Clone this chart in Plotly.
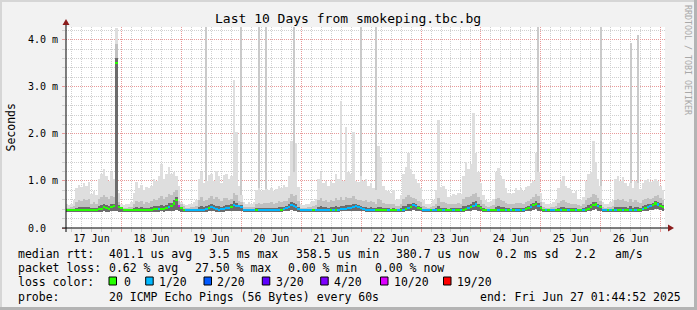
import pandas as pd
import plotly.graph_objects as go

# ---------------- data (ms), hourly, starting 2025-06-17 02:00 ----------------
start = "2025-06-17 01:44:52"
end = "2025-06-27 01:44:52"

rtt_min = (
    [.345,.345,.345,.345,.35,.35,.35,.35,.35,.35,.345,.35,.345,.35,.35,.355,.35,.35,.355,.355,.36,.35]
    + [.345,.345,.345,.345,.345,.345,.35,.35,.35,.345,.35,.345,.35,.35,.35,.35,.355,.35,.355,.36,.36,.37,.38,.355]
    + [.35,.345,.34,.34,.34,.34,.345,.35,.35,.35,.35,.355,.36,.355,.35,.35,.35,.35,.355,.355,.36,.37,.365,.36]
    + [.36,.35,.345,.345,.345,.34,.345,.345,.345,.345,.345,.345,.35,.345,.35,.35,.35,.355,.36,.365,.38,.37,.36,.35]
    + [.345,.34,.34,.34,.34,.345,.345,.35,.35,.345,.35,.345,.35,.345,.35,.35,.355,.355,.36,.36,.365,.37,.37,.36]
    + [.36,.355,.35,.345,.345,.34,.34,.345,.345,.345,.34,.34,.34,.345,.34,.345,.345,.35,.355,.36,.37,.38,.37,.36]
    + [.355,.345,.345,.34,.34,.34,.345,.345,.345,.345,.345,.34,.34,.345,.345,.345,.35,.35,.355,.36,.37,.38,.39,.37]
    + [.36,.35,.345,.345,.34,.34,.345,.345,.345,.345,.345,.34,.34,.345,.345,.345,.35,.35,.355,.36,.37,.39,.40,.37]
    + [.36,.35,.345,.34,.34,.34,.345,.345,.345,.35,.345,.345,.345,.345,.345,.34,.34,.345,.35,.36,.37,.39,.40,.37]
    + [.36,.35,.345,.34,.34,.345,.345,.35,.345,.35,.345,.345,.35,.345,.35,.35,.35,.355,.36,.37,.38,.39,.41,.40,.38,.37]
)

rtt_median = (
    [.385,.38,.38,.385,.38,.385,.38,.385,.38,.38,.38,.385,.38,.40,.41,.44,.43,.41,.44,.46,3.50,.45]
    + [.42,.39,.38,.38,.38,.38,.385,.38,.385,.38,.38,.39,.39,.40,.40,.41,.40,.41,.43,.45,.47,.52,.60,.46]
    + [.42,.39,.38,.375,.375,.375,.38,.39,.39,.39,.40,.42,.44,.42,.40,.39,.40,.41,.42,.43,.45,.49,.47,.46]
    + [.45,.39,.38,.38,.38,.375,.38,.38,.38,.38,.38,.38,.385,.38,.385,.39,.39,.40,.42,.45,.49,.47,.44,.40]
    + [.38,.375,.375,.375,.375,.38,.38,.385,.39,.38,.385,.38,.385,.38,.39,.39,.40,.40,.41,.42,.43,.45,.46,.44]
    + [.42,.40,.39,.38,.38,.375,.375,.38,.38,.38,.375,.375,.375,.38,.375,.38,.38,.39,.40,.42,.45,.48,.46,.43]
    + [.40,.38,.38,.375,.375,.375,.38,.38,.38,.38,.38,.375,.375,.38,.38,.38,.385,.39,.40,.42,.44,.47,.50,.46]
    + [.42,.39,.38,.38,.375,.375,.38,.38,.38,.38,.38,.375,.375,.38,.38,.38,.385,.39,.40,.42,.45,.49,.51,.46]
    + [.43,.39,.38,.375,.375,.375,.38,.38,.38,.385,.38,.38,.38,.38,.38,.375,.375,.38,.39,.41,.44,.48,.50,.46]
    + [.44,.39,.38,.375,.375,.38,.38,.385,.38,.385,.38,.38,.39,.38,.385,.39,.39,.40,.42,.44,.46,.49,.52,.50,.47,.45]
)

rtt_p75 = (
    [.43,.43,.44,.47,.55,.60,.58,.62,.60,.62,.52,.55,.52,.62,.66,.70,.65,.62,.68,.66,3.90,.55]
    + [.43,.43,.43,.44,.45,.50,.58,.55,.57,.52,.55,.54,.57,.62,.60,.63,.68,.62,.66,.72,.70,.76,.80,.58]
    + [.50,.46,.43,.43,.44,.45,.47,.60,.66,.58,.60,.64,.68,.62,.66,.62,.58,.63,.64,.60,.62,.75,.70,.58]
    + [.55,.45,.44,.45,.44,.45,.52,.54,.52,.53,.54,.53,.55,.52,.54,.57,.55,.58,.58,.64,.72,.68,.70,.58]
    + [.43,.43,.43,.44,.45,.46,.48,.60,.64,.58,.60,.56,.60,.58,.63,.60,.66,.60,.66,.64,.64,.68,.62,.60]
    + [.60,.58,.60,.56,.57,.55,.52,.62,.60,.54,.52,.51,.50,.52,.46,.47,.50,.62,.66,.70,.66,.64,.62,.58]
    + [.55,.47,.44,.43,.44,.46,.52,.64,.56,.56,.54,.50,.51,.52,.52,.53,.52,.62,.66,.66,.68,.72,.74,.66]
    + [.60,.50,.47,.45,.46,.48,.62,.64,.60,.58,.53,.51,.50,.51,.54,.53,.54,.52,.56,.58,.62,.66,.72,.68]
    + [.55,.45,.43,.43,.44,.45,.47,.54,.58,.60,.56,.54,.52,.52,.52,.48,.47,.50,.60,.64,.66,.72,.70,.64]
    + [.58,.45,.43,.44,.45,.47,.60,.62,.60,.62,.58,.56,.62,.55,.60,.56,.54,.60,.62,.64,.62,.64,.68,.70,.64,.60]
)

rtt_p95 = (
    [.50,.48,.52,.60,.85,.92,.88,.95,.90,.98,.72,.78,.70,1.05,1.15,1.25,1.10,1.00,1.18,1.05,4.24,.75]
    + [.50,.48,.50,.52,.55,.75,.98,.85,.92,.80,.88,.85,.90,1.05,1.00,1.10,1.35,1.05,1.15,1.30,1.15,1.20,1.10,.90]
    + [.55,.50,.48,.50,.52,.55,.60,1.05,1.20,.95,1.00,1.12,1.15,1.00,1.22,1.10,.95,1.12,1.15,1.05,1.10,3.15,2.05,.90]
    + [.70,.55,.52,.55,.50,.55,.80,.85,.78,.80,.82,.80,.85,.78,.82,.90,.86,.92,.88,1.10,1.85,1.20,1.80,.88]
    + [.50,.48,.50,.52,.55,.58,.62,1.05,1.20,.95,1.00,.90,1.00,.95,1.15,1.05,2.70,1.00,2.15,1.20,1.15,2.05,1.00,.98]
    + [1.10,1.00,1.05,.90,.95,.85,.80,1.75,1.50,.90,.80,.78,.75,.80,.60,.62,.70,1.15,1.30,1.60,1.25,1.15,1.05,.95]
    + [.85,.60,.52,.50,.52,.60,.80,2.30,.88,.90,.82,.65,.68,.72,.70,.75,.72,1.10,1.40,1.25,1.35,2.45,1.60,1.20]
    + [.95,.70,.60,.55,.58,.62,1.20,1.28,1.10,1.05,.85,.75,.72,.75,.85,.80,.85,.78,.88,.90,.95,1.00,1.60,1.20]
    + [.75,.55,.50,.50,.52,.55,.60,.85,1.00,1.10,.90,.85,.80,.75,.78,.62,.60,.65,1.00,1.15,1.20,1.85,1.40,1.05]
    + [.90,.55,.50,.52,.55,.60,1.05,1.10,1.00,1.08,.95,.90,.95,.85,1.00,.95,.82,.95,1.02,1.05,.98,1.00,1.05,1.00,.90,.80]
)

loss = (
    [0,0,0,0,0,0,0,0,0,0,0,0,0,0,0,0,0,0,0,0,0,0]
    + [0,0,0,0,0,0,0,0,0,0,0,0,0,0,0,1,0,0,0,1,0,0,0,10]
    + [0,0,1,1,1,1,1,1,1,1,1,0,1,1,1,1,1,1,1,1,0,1,1,1]
    + [1,1,1,1,1,1,0,1,1,1,1,1,1,1,1,1,0,1,1,1,1,1,1,1]
    + [1,1,1,1,1,0,1,1,1,1,1,1,0,1,0,1,1,1,1,1,1,1,1,1]
    + [1,1,1,1,1,1,0,0,0,0,0,1,0,0,0,1,0,1,0,1,0,1,1,0]
    + [0,1,1,1,0,1,1,0,0,1,0,0,0,1,0,0,1,0,0,1,0,1,1,0]
    + [0,0,0,1,0,0,0,1,0,0,1,0,1,0,1,1,0,1,0,0,1,0,0,1]
    + [0,0,1,0,1,1,0,0,1,0,0,1,0,0,1,0,0,1,0,0,0,0,0,1]
    + [0,1,1,0,1,0,1,0,0,1,0,0,1,0,1,0,0,1,0,1,1,0,0,1,0,0]
)

# isolated single-ping maxima (hour index, ms)
spike_idx = [20, 56, 70, 77, 80, 91, 118, 124, 189, 214, 226, 229]
spike_max = [4.24, 4.26, 4.26, 4.26, 4.26, 4.26, 4.26, 4.26, 4.26, 4.26, 3.92, 4.10]

loss_levels = [0, 1, 2, 3, 4, 10, 19]
loss_labels = ["0", "1/20", "2/20", "3/20", "4/20", "10/20", "19/20"]
loss_colors = ["#26ff00", "#00b8ff", "#0059ff", "#5e00ff", "#7e00ff", "#dd00ff", "#ff0000"]

y_tick_vals = [0, 1, 2, 3, 4]
y_tick_text = ["0.0\u00a0\u00a0", "1.0 m", "2.0 m", "3.0 m", "4.0 m"]

times = pd.date_range("2025-06-17 02:00", periods=len(rtt_median), freq="h")

# ---------------- geometry helpers ----------------
W, H = 697, 310
L, R, T, B = 66, 665, 27, 228
PW, PH = R - L, B - T
FONT = "DejaVu Sans Mono"


def px(x):
    return (x - L) / PW


def py(y):
    return (B - y) / PH


HOUR = 3600000
fig = go.Figure()

# smoke layers
fig.add_trace(go.Bar(x=times, base=rtt_min, y=[b - a for a, b in zip(rtt_min, rtt_p95)],
                     width=HOUR, marker=dict(color="#dedede", line=dict(width=0)), hoverinfo="skip"))
fig.add_trace(go.Bar(x=times, base=rtt_min, y=[b - a for a, b in zip(rtt_min, rtt_p75)],
                     width=HOUR, marker=dict(color="#c0c0c0", line=dict(width=0)), hoverinfo="skip"))
dark_top = [m + 0.3 * (p - m) for m, p in zip(rtt_median, rtt_p75)]
fig.add_trace(go.Bar(x=times, base=rtt_min, y=[d - a for a, d in zip(rtt_min, dark_top)],
                     width=HOUR, marker=dict(color="#6c6c6c", line=dict(width=0)), hoverinfo="skip"))
# thin spikes
sp_x = [times[i] for i in spike_idx]
sp_base = [rtt_p95[i] for i in spike_idx]
fig.add_trace(go.Bar(x=sp_x, base=sp_base, y=[m - b for m, b in zip(spike_max, sp_base)],
                     width=HOUR * 0.45, marker=dict(color="#cacaca", line=dict(width=0)), hoverinfo="skip"))
# median coloured by loss
cmap = dict(zip(loss_levels, loss_colors))
fig.add_trace(go.Bar(x=times, base=[m - 0.022 for m in rtt_median], y=[0.044] * len(rtt_median),
                     width=HOUR, marker=dict(color=[cmap[v] for v in loss], line=dict(width=0)),
                     hoverinfo="skip"))

grid_minor = "#cfcfcf"
grid_major = "#e89a9a"

fig.update_layout(
    width=W, height=H, autosize=False,
    margin=dict(l=L, r=W - R, t=T, b=H - B, pad=0),
    paper_bgcolor="#f2f2f2", plot_bgcolor="#ffffff",
    barmode="overlay", bargap=0, showlegend=False,
    font=dict(family=FONT, size=10, color="#000000"),
    xaxis=dict(
        type="date", range=[start, end], showline=False, zeroline=False,
        tick0="2025-06-17 00:00", dtick=86400000, tickformat="%d %b", ticklabelmode="period",
        ticks="outside", ticklen=3, tickcolor=grid_major, ticklabelstandoff=-2,
        showgrid=True, gridcolor=grid_major, griddash="1px,1px", gridwidth=1,
        minor=dict(dtick=4 * HOUR, tick0="2025-06-17 00:00", showgrid=True,
                   gridcolor=grid_minor, griddash="1px,1px", gridwidth=1,
                   ticks="outside", ticklen=3, tickcolor=grid_minor),
        tickfont=dict(family=FONT, size=10, color="#000000"),
        layer="above traces", fixedrange=True,
    ),
    yaxis=dict(
        range=[0, 4.27], showline=False, zeroline=False,
        tickmode="array", tickvals=y_tick_vals, ticktext=y_tick_text,
        ticks="outside", ticklen=3, tickcolor=grid_major, ticklabelstandoff=2,
        showgrid=True, gridcolor=grid_major, griddash="1px,1px", gridwidth=1,
        minor=dict(tickmode="linear", tick0=0, dtick=0.2, showgrid=True,
                   gridcolor=grid_minor, griddash="1px,1px", gridwidth=1,
                   ticks="outside", ticklen=3, tickcolor=grid_minor),
        tickfont=dict(family=FONT, size=10, color="#000000"),
        layer="above traces", fixedrange=True,
    ),
)

shapes = []


def rect(x0, y0, x1, y1, color, line=None):
    d = dict(type="rect", xref="paper", yref="paper", x0=px(x0), x1=px(x1), y0=py(y0), y1=py(y1),
             fillcolor=color, layer="above")
    d["line"] = line if line else dict(width=0)
    shapes.append(d)


# image frame
rect(0, 0, W, 2, "#d6d6d6")
rect(0, 0, 2, H, "#d6d6d6")
rect(0, H - 3, W, H, "#b4b4b4")
rect(W - 3, 0, W, H, "#b4b4b4")

# axes lines
shapes.append(dict(type="line", xref="paper", yref="paper", x0=px(66), x1=px(66), y0=py(232), y1=py(24),
                   line=dict(color="#000000", width=1), layer="above"))
shapes.append(dict(type="line", xref="paper", yref="paper", x0=px(62), x1=px(669), y0=0, y1=0,
                   line=dict(color="#000000", width=1), layer="above"))
# arrows
shapes.append(dict(type="path", xref="paper", yref="paper",
                   path=f"M {px(62.5)} {py(25)} L {px(69.5)} {py(25)} L {px(66)} {py(19)} Z",
                   fillcolor="#8b1c1c", line=dict(width=0), layer="above"))
shapes.append(dict(type="path", xref="paper", yref="paper",
                   path=f"M {px(668)} {py(224.5)} L {px(668)} {py(231.5)} L {px(674)} {py(228)} Z",
                   fillcolor="#8b1c1c", line=dict(width=0), layer="above"))

ann = []


def text(x, y, s, size=11.5, color="#000000", anchor="left", angle=0, yanchor="middle"):
    ann.append(dict(xref="paper", yref="paper", x=px(x), y=py(y), text=s, showarrow=False,
                    xanchor=anchor, yanchor=yanchor, textangle=angle,
                    font=dict(family=FONT, size=size, color=color)))


text(348, 19, "Last 10 Days from smokeping.tbc.bg", size=13, anchor="center")
text(10, 127.5, "Seconds", size=11.5, anchor="center", angle=-90)
text(688, 60, "RRDTOOL / TOBI OETIKER", size=8.3, color="#a8a8a8", anchor="center", angle=90)

# legend rows
y1, y2, y3, y4 = 254, 268, 282, 296.5
text(16, y1, "median rtt:")
text(107.3, y1, "401.1 us avg")
text(207.4, y1, "3.5 ms max")
text(293.5, y1, "358.5 us min")
text(393.5, y1, "380.7 us now")
text(493.5, y1, "0.2 ms sd")
text(573, y1, "2.2")
text(613, y1, "am/s")

text(16, y2, "packet loss:")
text(107.3, y2, "0.62 % avg")
text(193.3, y2, "27.50 % max")
text(286, y2, "0.00 % min")
text(372.7, y2, "0.00 % now")

text(16, y3, "loss color:")
box_x = [109, 145.7, 204, 262.3, 320.7, 380.5, 443.5]
lab_x = [121.5, 157, 215.3, 273.6, 332, 391.8, 454.8]
for bx, lx, c, lab in zip(box_x, lab_x, loss_colors, loss_labels):
    rect(bx, 277, bx + 7.5, 285, c, line=dict(color="#000000", width=1))
    text(lx, y3, lab)

text(16, y4, "probe:")
text(107.3, y4, "20 ICMP Echo Pings (56 Bytes) every 60s")
text(478.3, y4, "end: Fri Jun 27 01:44:52 2025")

fig.update_layout(shapes=shapes, annotations=ann)
fig.write_html("out.html")
